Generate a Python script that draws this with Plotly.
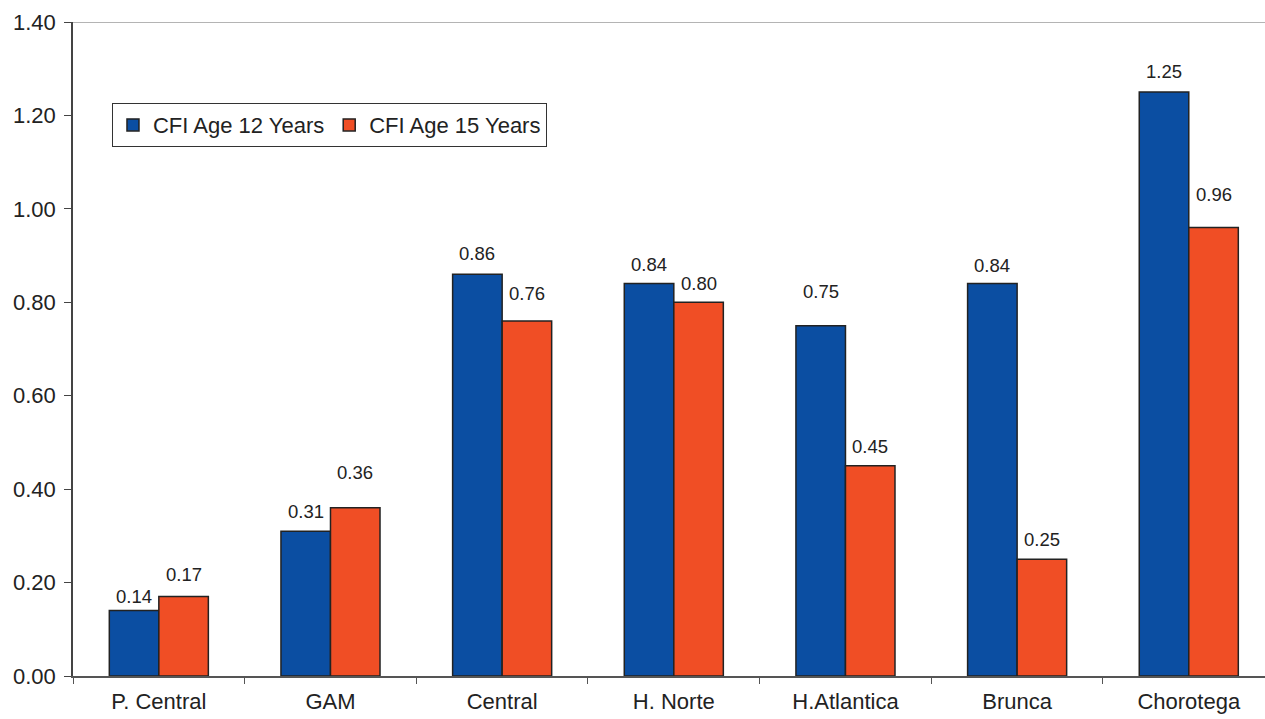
import plotly.graph_objects as go

regions = ["P. Central", "GAM", "Central", "H. Norte", "H.Atlantica", "Brunca", "Chorotega"]
cfi_12 = [0.14, 0.31, 0.86, 0.84, 0.75, 0.84, 1.25]
cfi_15 = [0.17, 0.36, 0.76, 0.80, 0.45, 0.25, 0.96]

# pixel lift of each value label above its bar top
lift_12 = [14, 20, 21, 19, 34, 18, 21]
lift_15 = [22, 35, 27, 19, 19, 20, 33]

BLUE = "#0b4ea2"
RED = "#f04e25"
FONT = "Liberation Sans, Arial, sans-serif"
BARGAP = 0.423

fig = go.Figure()
fig.add_trace(go.Bar(name="CFI Age 12 Years", x=regions, y=cfi_12,
                     marker=dict(color=BLUE, line=dict(color="#222222", width=1.5))))
fig.add_trace(go.Bar(name="CFI Age 15 Years", x=regions, y=cfi_15,
                     marker=dict(color=RED, line=dict(color="#222222", width=1.5))))

half = (1 - BARGAP) / 4
for i, (a, b) in enumerate(zip(cfi_12, cfi_15)):
    fig.add_annotation(x=i - half, y=a, text=f"{a:.2f}", showarrow=False,
                       yanchor="middle", yshift=lift_12[i],
                       font=dict(size=18.5, color="#222222", family=FONT))
    fig.add_annotation(x=i + half, y=b, text=f"{b:.2f}", showarrow=False,
                       yanchor="middle", yshift=lift_15[i],
                       font=dict(size=18.5, color="#222222", family=FONT))

# light frame line along the top of the plot area
fig.add_shape(type="line", xref="paper", yref="y", x0=0, x1=1, y0=1.4, y1=1.4,
              line=dict(color="#b4b4b4", width=2))

fig.update_layout(
    width=1265, height=719,
    margin=dict(l=73, r=0, t=22, b=43),
    paper_bgcolor="white", plot_bgcolor="white",
    barmode="group", bargap=BARGAP, bargroupgap=0,
    font=dict(family=FONT, size=22, color="#222222"),
    showlegend=True,
    legend=dict(orientation="h", x=0.0327, y=0.876, xanchor="left", yanchor="top",
                bgcolor="white", bordercolor="#333333", borderwidth=1,
                font=dict(size=22), traceorder="normal", itemwidth=30,
                tracegroupgap=0),
    xaxis=dict(type="category", range=[-0.5, 6.444], showgrid=False,
               showline=True, linecolor="#555555", linewidth=1.5,
               ticks="outside", tickson="boundaries", ticklen=6,
               tickcolor="#555555", tickfont=dict(size=22),
               ticklabelstandoff=5, automargin=False),
    yaxis=dict(range=[0, 1.4], dtick=0.2, tickformat=".2f", showgrid=False,
               zeroline=False, showline=True, linecolor="#444444", linewidth=1.5,
               ticks="outside", ticklen=7, tickcolor="#444444",
               tickfont=dict(size=22), ticklabelstandoff=4, automargin=False),
)

fig.write_html("out.html")
